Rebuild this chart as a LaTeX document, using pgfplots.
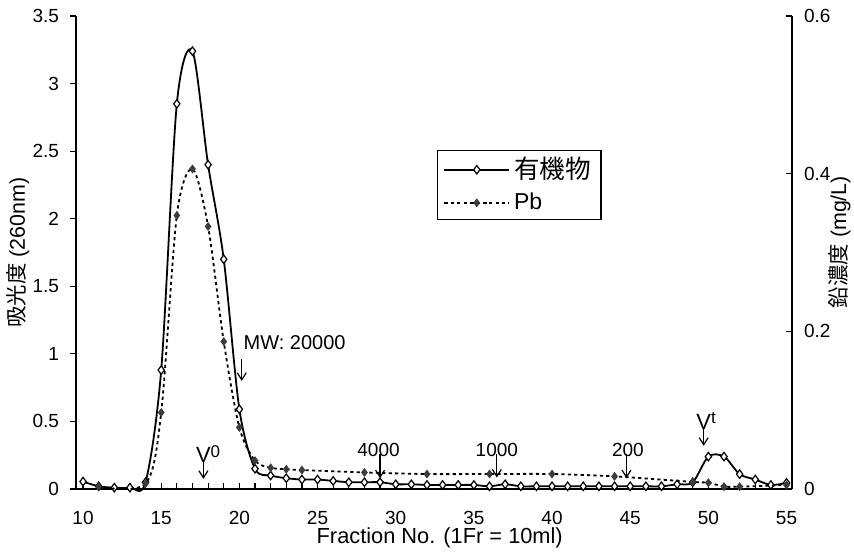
\documentclass[border=0pt]{standalone}
\usepackage{fontspec}
\setmainfont{Liberation Sans}
\newfontfamily\cjk{Noto Sans CJK JP}
\usepackage{pgfplots}
\usepackage{pgfplotstable}
\pgfplotsset{compat=1.18}
\usetikzlibrary{arrows.meta}

% organic matter, absorbance at 260 nm
\pgfplotstableread{
fr abs
10 0.055
11 0.02
12 0.01
13 0.01
14 0.05
15 0.88
16 2.85
17 3.24
18 2.40
19 1.70
20 0.59
21 0.15
22 0.10
23 0.08
24 0.07
25 0.07
26 0.06
27 0.05
28 0.05
29 0.05
30 0.035
31 0.035
32 0.03
33 0.03
34 0.03
35 0.03
36 0.02
37 0.035
38 0.02
39 0.02
40 0.02
41 0.02
42 0.02
43 0.02
44 0.02
45 0.02
46 0.02
47 0.02
48 0.035
49 0.05
50 0.24
51 0.24
52 0.11
53 0.07
54 0.03
55 0.045
}\organic

% lead, mg/L
\pgfplotstableread{
fr pb
11 0.003
14 0.007
15 0.097
16 0.347
17 0.406
18 0.333
19 0.187
20 0.078
21 0.036
22 0.027
23 0.025
24 0.024
28 0.021
32 0.019
36 0.019
40 0.019
44 0.016
49 0.009
50 0.008
51 0.003
52 0.003
55 0.005
}\lead

\definecolor{pbgray}{RGB}{60,60,60}
\pgfplotsset{
  orgline/.style={black, line width=0.9pt, smooth, tension=0.5,
    mark=diamond*, mark size=2.1pt,
    mark options={fill=white, solid, line width=0.6pt}},
  pbline/.style={black, line width=0.9pt, smooth, tension=0.5,
    dash pattern=on 1.6pt off 1.6pt,
    mark=diamond*, mark size=1.9pt,
    mark options={fill=pbgray, draw=pbgray, solid, line width=0.4pt}},
  base/.style={
    at={(0pt,0pt)}, anchor=south west,
    scale only axis, width=358pt, height=236.5pt,
    xmin=9.55, xmax=55.35, clip=false,
    axis line style={line width=0.7pt},
    /pgf/number format/assume math mode=true,
    tick label style={font=\fontsize{9.5}{11}\selectfont},
  },
}
\tikzset{mwarrow/.style={-{Straight Barb[length=3.5pt,width=4.5pt]}, line width=0.6pt}}

\begin{document}
\begin{tikzpicture}[font=\fontsize{9.5}{11}\selectfont]
\useasboundingbox (-38pt,-31.5pt) rectangle (389pt,244.5pt);
\begin{axis}[
  base,
  ymin=0, ymax=3.5,
  axis x line*=bottom, axis y line*=left,
  xtick={10,15,...,55}, minor x tick num=4,
  ytick={0,0.5,1,1.5,2,2.5,3,3.5},
  xtick align=inside, ytick align=outside,
  major tick length=3pt, minor tick length=3pt,
  tick style={line width=0.6pt, black},
  xticklabel style={yshift=-7.5pt},
  yticklabel style={xshift=-2pt},
]
  \addplot[orgline] table[x=fr, y=abs] {\organic};

  \node[rotate=90, font=\fontsize{10.7}{12}\selectfont]
    at (rel axis cs:-0.081,0.5) {{\cjk 吸光度} (260nm)};
  \node[font=\fontsize{10.9}{12}\selectfont]
    at (rel axis cs:0.508,-0.104) {Fraction No. (1Fr = 10ml)};

  % molecular weight markers
  \node[anchor=south, inner sep=0pt, font=\fontsize{11}{12}\selectfont]
    at (axis cs:17.7,0.19) {V\rlap{\raisebox{0.45ex}{\fontsize{8.5}{9}\selectfont 0}}};
  \draw[mwarrow] (axis cs:17.7,0.20) -- (axis cs:17.7,0.075);

  \node[anchor=west, inner sep=0pt, font=\fontsize{10}{12}\selectfont]
    at (axis cs:20.25,1.08) {MW: 20000};
  \draw[mwarrow] (axis cs:20.15,0.96) -- (axis cs:20.15,0.80);

  \node[inner sep=0pt] at (axis cs:28.9,0.29) {4000};
  \draw[mwarrow] (axis cs:29.0,0.26) -- (axis cs:29.0,0.08);

  \node[inner sep=0pt] at (axis cs:36.47,0.29) {1000};
  \draw[mwarrow] (axis cs:36.47,0.26) -- (axis cs:36.47,0.085);

  \node[inner sep=0pt] at (axis cs:44.85,0.29) {200};
  \draw[mwarrow] (axis cs:44.76,0.26) -- (axis cs:44.76,0.08);

  \node[anchor=south, inner sep=0pt, font=\fontsize{11}{12}\selectfont]
    at (axis cs:49.7,0.44) {V\rlap{\raisebox{0.45ex}{\fontsize{8.5}{9}\selectfont t}}};
  \draw[mwarrow] (axis cs:49.7,0.45) -- (axis cs:49.7,0.32);
\end{axis}

\begin{axis}[
  base,
  ymin=0, ymax=0.6,
  axis x line=none, axis y line*=right,
  ytick={0,0.2,0.4,0.6},
  ytick align=inside,
  major tick length=3pt,
  tick style={line width=0.6pt, black},
  yticklabel style={xshift=2.5pt},
  legend style={at={(rel axis cs:0.504,0.717)}, anchor=north west,
    draw=black, line width=0.6pt, font=\fontsize{11.5}{13}\selectfont,
    inner xsep=3pt, inner ysep=1.5pt, row sep=1.5pt},
  legend cell align=left,
  legend image code/.code={
    \draw[mark repeat=2, mark phase=2]
      plot coordinates {(0cm,0cm) (0.57cm,0cm) (1.14cm,0cm)};},
]
  \addlegendimage{orgline, smooth=false}
  \addlegendentry{{\cjk\fontsize{12.8}{13}\selectfont 有機物}}
  \addplot[pbline] table[x=fr, y=pb] {\lead};
  \addlegendentry{Pb}

  \node[rotate=90, font=\fontsize{10.7}{12}\selectfont]
    at (rel axis cs:1.066,0.522) {{\cjk 鉛濃度} (mg/L)};
\end{axis}
\end{tikzpicture}
\end{document}
